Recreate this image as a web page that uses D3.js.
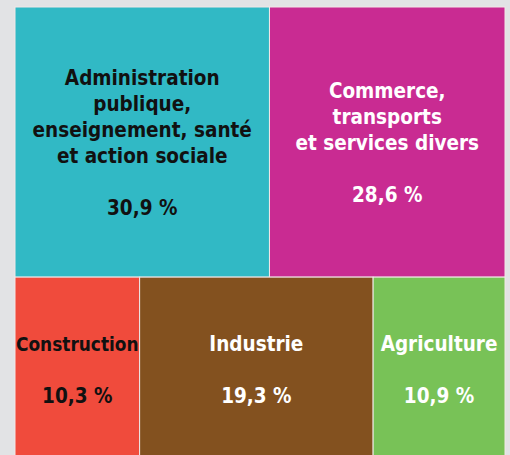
<!DOCTYPE html>
<html>
<head>
<meta charset="utf-8">
<script src="https://cdn.jsdelivr.net/npm/d3@7"></script>
<style>
  html, body { margin: 0; padding: 0; background: #e2e3e5; }
  svg { display: block; }
</style>
</head>
<body>
<svg id="chart" width="510" height="455"></svg>
<script>
// Répartition de l'emploi par secteur d'activité (%)
const sectors = [
  "Administration\npublique,\nenseignement, santé\net action sociale",
  "Commerce,\ntransports\net services divers",
  "Construction",
  "Industrie",
  "Agriculture"
];
const shares = [30.9, 28.6, 10.3, 19.3, 10.9];
const rowOf = [0, 0, 1, 1, 1];
const fillColors = ["#31b9c5", "#c92b92", "#f04b3c", "#83511f", "#78c257"];
const textColors = ["#111111", "#ffffff", "#111111", "#ffffff", "#ffffff"];

const W = 510, H = 455;
const margin = { left: 15, top: 7, right: 5 };
const mapW = W - margin.left - margin.right;
const mapH = 454;

const svg = d3.select("#chart");
svg.append("rect").attr("width", W).attr("height", H).attr("fill", "#e2e3e5");

// Two rows stacked vertically, each row split horizontally by share
const rowsData = d3.range(2).map(r => ({
  children: sectors.map((s, i) => ({ i, name: s, value: shares[i] })).filter(d => rowOf[d.i] === r)
}));
const root = d3.hierarchy({ children: rowsData }).sum(d => d.value || 0);

const tile = (node, x0, y0, x1, y1) =>
  node.depth === 0 ? d3.treemapSlice(node, x0, y0, x1, y1)
                   : d3.treemapDice(node, x0, y0, x1, y1);

d3.treemap().size([mapW, mapH]).tile(tile).round(false)(root);

const fmt = v => d3.format(".1f")(v).replace(".", ",") + " %";

const g = svg.append("g").attr("transform", `translate(${margin.left},${margin.top})`);
const cells = g.selectAll("g.cell").data(root.leaves()).join("g").attr("class", "cell");

cells.append("rect")
  .attr("x", d => d.x0).attr("y", d => d.y0)
  .attr("width", d => d.x1 - d.x0).attr("height", d => d.y1 - d.y0)
  .attr("fill", d => fillColors[d.data.i])
  .attr("stroke", "#f1e8e8").attr("stroke-width", 1);

const fontFamily = "'DejaVu Sans Condensed', 'DejaVu Sans', Verdana, sans-serif";
const fontSize = 20.5, lineStep = 26, capH = 15;

cells.each(function (d) {
  // name lines, one blank line, then the share
  const lines = d.data.name.split("\n").concat(["", fmt(d.data.value)]);
  const cx = (d.x0 + d.x1) / 2;
  const cy = (d.y0 + d.y1) / 2;
  const blockH = capH + (lines.length - 1) * lineStep;
  const firstBase = cy - blockH / 2 + capH;
  const cellW = d.x1 - d.x0;

  const txt = d3.select(this).append("text")
    .attr("text-anchor", "middle")
    .attr("font-family", fontFamily)
    .attr("font-stretch", "condensed")
    .attr("font-weight", "bold")
    .attr("font-size", fontSize)
    .attr("fill", textColors[d.data.i]);

  lines.forEach((l, k) => {
    const ts = txt.append("tspan").attr("x", cx).attr("y", firstBase + k * lineStep).text(l);
    // shrink a line that would spill out of its cell
    const w = ts.node().getComputedTextLength();
    if (w > cellW - 2) ts.attr("font-size", fontSize * (cellW - 2) / w);
  });
});
</script>
</body>
</html>
